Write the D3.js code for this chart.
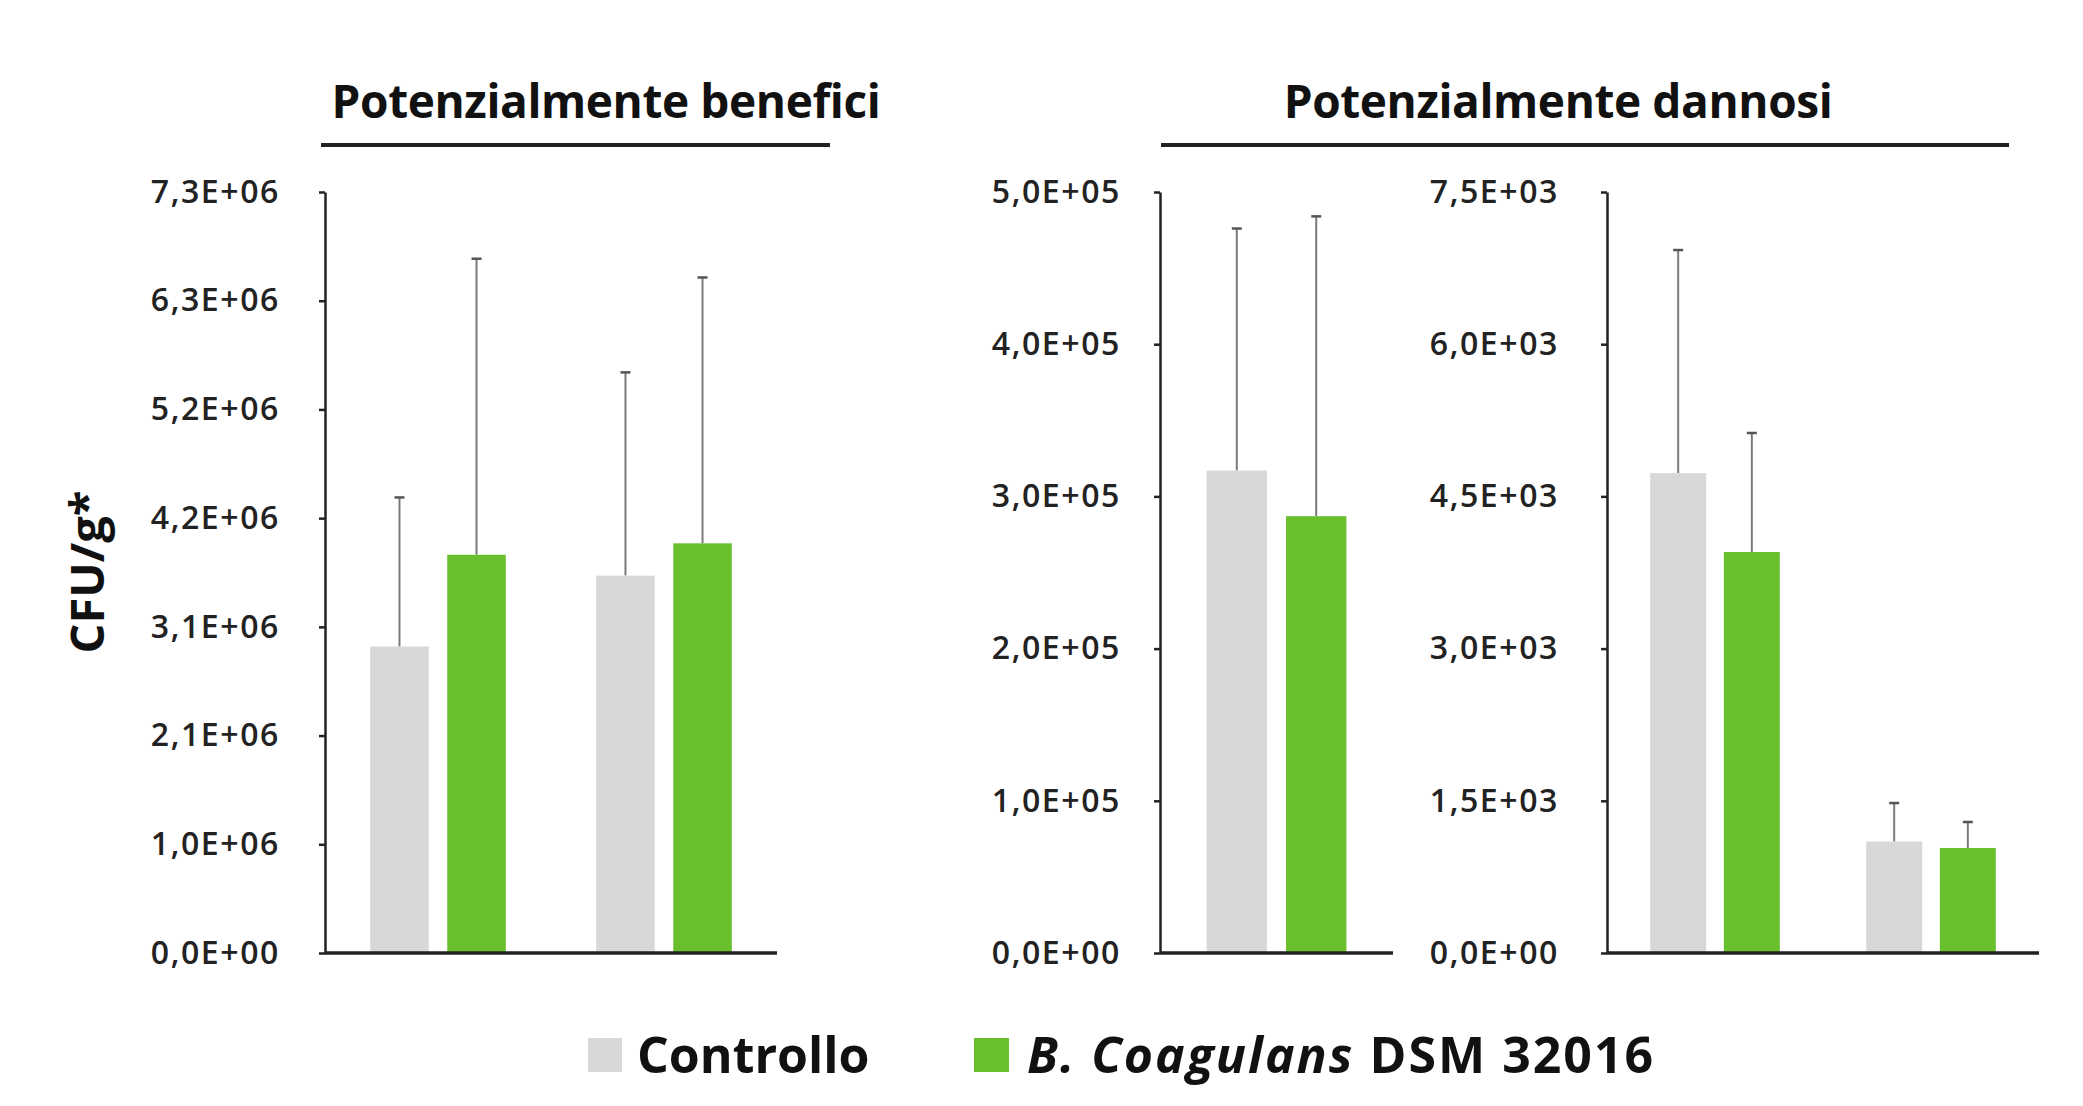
<!DOCTYPE html>
<html>
<head>
<meta charset="utf-8">
<script src="https://cdn.jsdelivr.net/npm/d3@7"></script>
<style>
  body { margin: 0; background: #fff; }
  svg { display: block; }
  .tick text { font-family: "Open Sans", sans-serif; fill: #222; }
</style>
</head>
<body>
<svg id="chart" width="2083" height="1106"></svg>
<script>
// DATA

const seriesNames = ['Controllo', 'B. Coagulans DSM 32016']

// potenzialmente benefici (2 groups)
const benGroups = ['g1', 'g2']
const benCtrl = [2.94e6, 3.62e6]
const benCtrlErr = [1.43e6, 1.95e6]
const benBc = [3.82e6, 3.93e6]
const benBcErr = [2.84e6, 2.55e6]
const benTickLabels = ['0,0E+00', '1,0E+06', '2,1E+06', '3,1E+06', '4,2E+06', '5,2E+06', '6,3E+06', '7,3E+06']
const benMax = 7.3e6

// potenzialmente dannosi, first panel (1 group)
const danAGroups = ['g1']
const danACtrl = [3.17e5]
const danACtrlErr = [1.59e5]
const danABc = [2.87e5]
const danABcErr = [1.97e5]
const danATickLabels = ['0,0E+00', '1,0E+05', '2,0E+05', '3,0E+05', '4,0E+05', '5,0E+05']
const danAMax = 5e5

// potenzialmente dannosi, second panel (2 groups)
const danBGroups = ['g1', 'g2']
const danBCtrl = [4730, 1099]
const danBCtrlErr = [2198, 379]
const danBBc = [3952, 1035]
const danBBcErr = [1173, 256]
const danBTickLabels = ['0,0E+00', '1,5E+03', '3,0E+03', '4,5E+03', '6,0E+03', '7,5E+03']
const danBMax = 7500


// SETUP

const svg = d3.select('#chart')
const colors = { ctrl: '#d9d8d8', bc: '#6abf2d' }
const yTop = 192
const yBottom = 953

function drawPanel(opts) {
    const g = svg.append('g')

    const x0 = d3.scaleBand()
        .domain(opts.groups)
        .range([opts.x0, opts.x1])
        .paddingInner(0.4)
        .paddingOuter(0.2)

    const x1 = d3.scaleBand()
        .domain(['ctrl', 'bc'])
        .range([0, x0.bandwidth()])
        .paddingInner(0.24)

    const y = d3.scaleLinear()
        .domain([0, opts.max])
        .range([yBottom, yTop])

    const n = opts.tickLabels.length - 1
    const tickValues = d3.range(n + 1).map(i => opts.max * i / n)

    const yAxis = d3.axisLeft(y)
        .tickValues(tickValues)
        .tickFormat((d, i) => opts.tickLabels[i])
        .tickSizeInner(6)
        .tickSizeOuter(0)
        .tickPadding(opts.pad)

    const axisG = g.append('g')
        .attr('transform', `translate(${opts.x0},0)`)
        .call(yAxis)
    axisG.select('.domain').attr('stroke', '#222').attr('stroke-width', 2.5)
    axisG.selectAll('.tick line').attr('stroke', '#222').attr('stroke-width', 2.5)
    axisG.selectAll('.tick text')
        .attr('font-size', 32)
        .attr('font-weight', 600)
        .attr('letter-spacing', 1.6)

    // rows: one per bar
    const rows = []
    opts.groups.forEach((grp, i) => {
        rows.push({ grp, s: 'ctrl', v: opts.ctrl[i], e: opts.ctrlErr[i] })
        rows.push({ grp, s: 'bc', v: opts.bc[i], e: opts.bcErr[i] })
    })

    // error bars (plus direction only)
    const cx = d => x0(d.grp) + x1(d.s) + x1.bandwidth() / 2
    g.selectAll('.err')
        .data(rows)
        .join('line')
        .attr('x1', cx).attr('x2', cx)
        .attr('y1', d => y(d.v))
        .attr('y2', d => y(d.v + d.e))
        .attr('stroke', '#7a7a7a')
        .attr('stroke-width', 2)
    g.selectAll('.cap')
        .data(rows)
        .join('line')
        .attr('x1', d => cx(d) - 5).attr('x2', d => cx(d) + 5)
        .attr('y1', d => y(d.v + d.e))
        .attr('y2', d => y(d.v + d.e))
        .attr('stroke', '#555')
        .attr('stroke-width', 2.5)

    g.selectAll('.bar')
        .data(rows)
        .join('rect')
        .attr('x', d => x0(d.grp) + x1(d.s))
        .attr('y', d => y(d.v))
        .attr('width', x1.bandwidth())
        .attr('height', d => yBottom - y(d.v))
        .attr('fill', d => colors[d.s])

    // baseline
    g.append('line')
        .attr('x1', opts.x0).attr('x2', opts.x1)
        .attr('y1', yBottom).attr('y2', yBottom)
        .attr('stroke', '#222')
        .attr('stroke-width', 3.5)
}

drawPanel({ groups: benGroups, ctrl: benCtrl, ctrlErr: benCtrlErr, bc: benBc, bcErr: benBcErr,
    tickLabels: benTickLabels, max: benMax, x0: 325, x1: 777, pad: 39 })
drawPanel({ groups: danAGroups, ctrl: danACtrl, ctrlErr: danACtrlErr, bc: danABc, bcErr: danABcErr,
    tickLabels: danATickLabels, max: danAMax, x0: 1160, x1: 1393, pad: 33 })
drawPanel({ groups: danBGroups, ctrl: danBCtrl, ctrlErr: danBCtrlErr, bc: danBBc, bcErr: danBBcErr,
    tickLabels: danBTickLabels, max: danBMax, x0: 1607, x1: 2039, pad: 42 })


// TITLES

const titleFont = '"Open Sans", sans-serif'

svg.append('text')
    .attr('x', 606).attr('y', 118)
    .attr('text-anchor', 'middle')
    .attr('font-family', titleFont).attr('font-weight', 700).attr('font-size', 46)
    .attr('letter-spacing', -0.4)
    .attr('fill', '#111')
    .text('Potenzialmente benefici')
svg.append('line')
    .attr('x1', 321).attr('x2', 830).attr('y1', 145).attr('y2', 145)
    .attr('stroke', '#222').attr('stroke-width', 4)

svg.append('text')
    .attr('x', 1558).attr('y', 118)
    .attr('text-anchor', 'middle')
    .attr('font-family', titleFont).attr('font-weight', 700).attr('font-size', 46)
    .attr('letter-spacing', -0.4)
    .attr('fill', '#111')
    .text('Potenzialmente dannosi')
svg.append('line')
    .attr('x1', 1161).attr('x2', 2009).attr('y1', 145).attr('y2', 145)
    .attr('stroke', '#222').attr('stroke-width', 4)

// y axis label
svg.append('text')
    .attr('transform', 'translate(104,572) rotate(-90)')
    .attr('text-anchor', 'middle')
    .attr('font-family', titleFont).attr('font-weight', 700).attr('font-size', 47)
    .attr('fill', '#111')
    .text('CFU/g*')


// LEGEND

svg.append('rect')
    .attr('x', 588).attr('y', 1038).attr('width', 34).attr('height', 34)
    .attr('fill', colors.ctrl)
svg.append('text')
    .attr('x', 637).attr('y', 1073)
    .attr('font-family', titleFont).attr('font-weight', 700).attr('font-size', 50)
    .attr('fill', '#111')
    .text(seriesNames[0])

svg.append('rect')
    .attr('x', 974).attr('y', 1038).attr('width', 35).attr('height', 34)
    .attr('fill', colors.bc)
const legTxt = svg.append('text')
    .attr('x', 1027).attr('y', 1073)
    .attr('font-family', titleFont).attr('font-weight', 700).attr('font-size', 50)
    .attr('letter-spacing', 2)
    .attr('fill', '#111')
legTxt.append('tspan').attr('font-style', 'italic').text(seriesNames[1].slice(0, 12))
legTxt.append('tspan').text(seriesNames[1].slice(12))
</script>
</body>
</html>
